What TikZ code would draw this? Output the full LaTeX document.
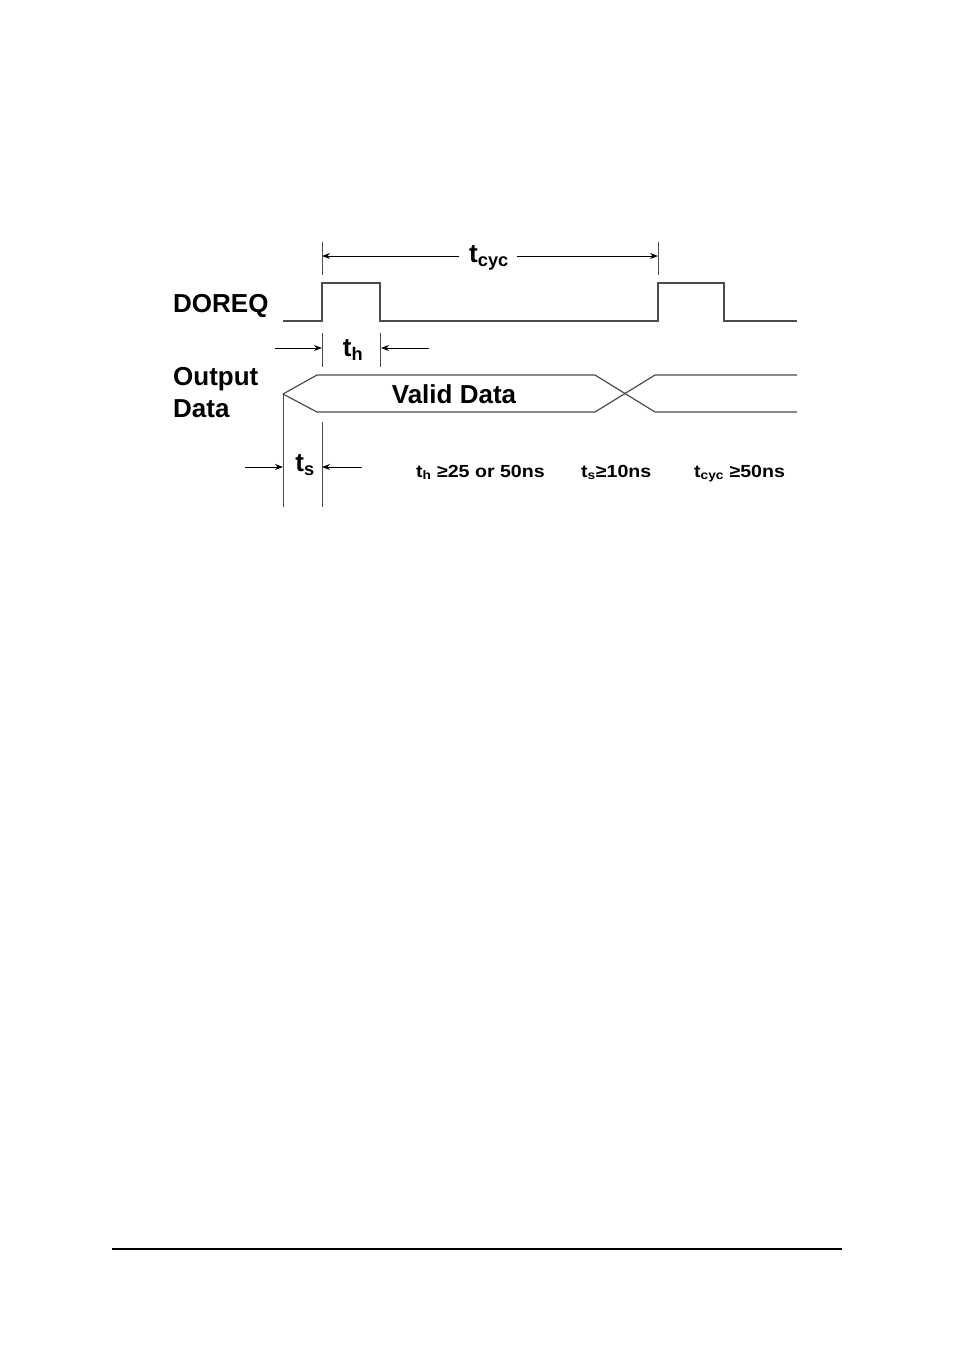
\documentclass[tikz,border=0pt]{standalone}
\usepackage{fontspec}
\setmainfont{Liberation Sans}
\newfontfamily\notefont[FakeStretch=1.12]{Liberation Sans Bold}
\usetikzlibrary{arrows.meta,positioning}
\newcommand{\labelSize}[0]{\fontsize{26}{32}\selectfont}
\newcommand{\noteSize}[0]{\fontsize{17.5}{20}\selectfont}

\begin{document}
\begin{tikzpicture}[x=1pt, y=-1pt]
  \tikzset{every node/.style={inner sep=0pt, font=\bfseries\labelSize},
    wave/.style={line width=1.2pt, black!70, line join=miter},
    tickline/.style={line width=1pt, black!70},
    dimarrow/.style={line width=1pt, -{Stealth[length=8pt,width=6pt]}},
    note/.style={anchor=base west, font=\notefont\noteSize}}
  \useasboundingbox (0,0) rectangle (954,1358);
  % signal names
  \node(DOREQ)[anchor=base west] at (173,312) {DOREQ};
  \node(Output)[anchor=base west] at (173,385) {Output};
  \node(Data)[anchor=base west] at (173,417) {Data};
  % edges of the request pulses
  \coordinate (rise-1) at (322,283);
  \coordinate (fall-1) at (380,283);
  \coordinate (rise-2) at (658,283);
  \coordinate (fall-2) at (724,283);
  \coordinate (bus-0) at (283,394);
  \draw[wave] (283,321) -- (rise-1 |- 0,321) -- (rise-1) -- (fall-1)
    -- (fall-1 |- 0,321) -- (rise-2 |- 0,321) -- (rise-2) -- (fall-2)
    -- (fall-2 |- 0,321) -- (797,321);
  \draw[wave] (bus-0) -- (317,375) -- (595,375) -- (655,412) -- (797,412);
  \draw[wave] (bus-0) -- (317,412) -- (595,412) -- (655,375) -- (797,375);
  \node(VALID) at (454,394) {Valid Data};
  % extension lines
  \draw[tickline] (322,242) -- (322,275);
  \draw[tickline] (658,242) -- (658,275);
  \draw[tickline] (322,333) -- (322,367);
  \draw[tickline] (380,333) -- (380,367);
  \draw[tickline] (bus-0) -- (283,507);
  \draw[tickline] (322,422) -- (322,507);
  % timing labels
  \node(T-CYC) at (489,258) {t\textsubscript{cyc}};
  \node(T-H) at (353,350) {t\textsubscript{h}};
  \node(T-S) at (305,465) {t\textsubscript{s}};
  \coordinate (cyc-l) at (322,256);
  \coordinate (cyc-r) at (658,256);
  \draw[dimarrow] (T-CYC.west |- cyc-l) ++(-10pt,0) -- (cyc-l);
  \draw[dimarrow] (T-CYC.east |- cyc-r) ++(8pt,0) -- (cyc-r);
  \coordinate (h-l) at (322,348);
  \coordinate (h-r) at (381,348);
  \draw[dimarrow] (275,348) -- (h-l);
  \draw[dimarrow] (429,348) -- (h-r);
  \coordinate (s-l) at (283,467);
  \coordinate (s-r) at (322,467);
  \draw[dimarrow] (245,467) -- (s-l);
  \draw[dimarrow] (362,467) -- (s-r);
  \node(NOTE-H)[note] at (416,477) {t\textsubscript{h} ≥25 or 50ns};
  \node(NOTE-S)[note] at (581,477) {t\textsubscript{s}≥10ns};
  \node(NOTE-CYC)[note] at (694,477) {t\textsubscript{cyc} ≥50ns};
  % page rule
  \draw[line width=2.5pt] (112,1249) -- (842,1249);
\end{tikzpicture}
\end{document}
